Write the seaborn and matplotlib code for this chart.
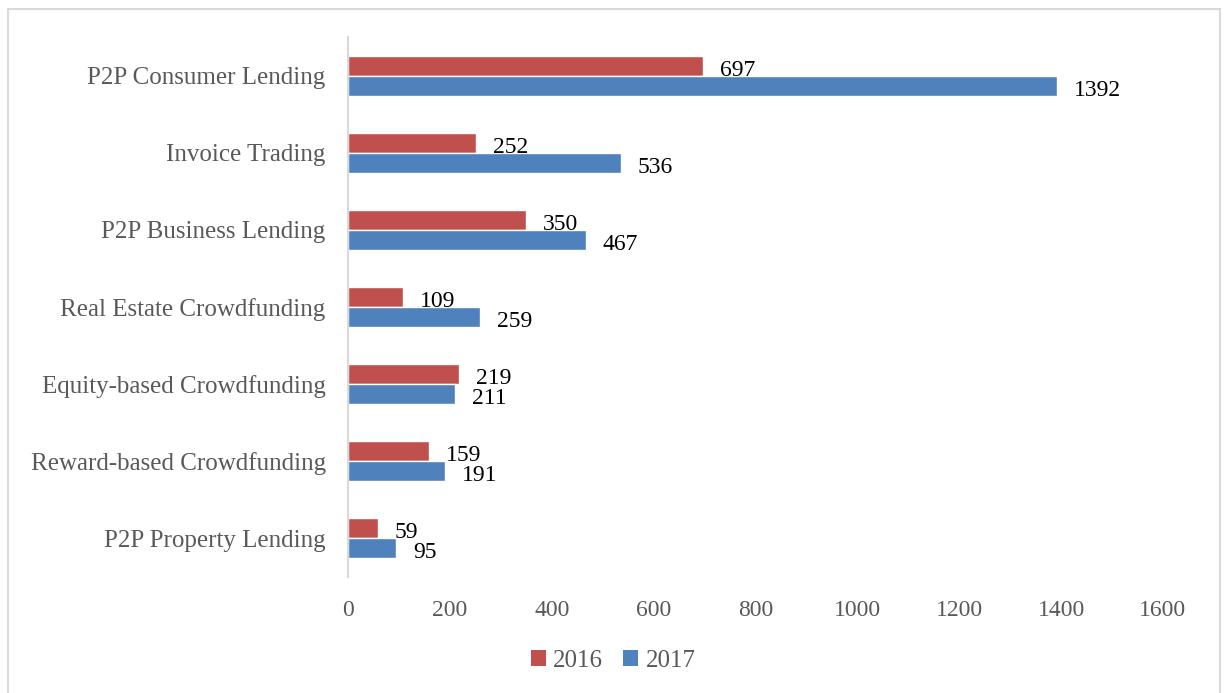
import matplotlib
matplotlib.use("Agg")
import matplotlib.pyplot as plt
import seaborn as sns
import pandas as pd
from matplotlib.patches import Rectangle, Patch

categories = [
    "P2P Consumer Lending",
    "Invoice Trading",
    "P2P Business Lending",
    "Real Estate Crowdfunding",
    "Equity-based Crowdfunding",
    "Reward-based Crowdfunding",
    "P2P Property Lending",
]
values_2016 = [697, 252, 350, 109, 219, 159, 59]
values_2017 = [1392, 536, 467, 259, 211, 191, 95]
years = ["2016", "2017"]
x_ticks = [0, 200, 400, 600, 800, 1000, 1200, 1400, 1600]

colors = {"2016": "#C0504D", "2017": "#4F81BD"}

df = pd.DataFrame({
    "category": categories * 2,
    "year": ["2016"] * len(categories) + ["2017"] * len(categories),
    "value": values_2016 + values_2017,
})

sns.set_theme(style="white")
plt.rcParams["font.family"] = ["Liberation Serif", "DejaVu Serif"]

fig = plt.figure(figsize=(12.26, 6.93), dpi=100)
ax = fig.add_axes([0.2838, 0.168, 0.6648, 0.778])

sns.barplot(data=df, y="category", x="value", hue="year", order=categories,
            hue_order=years, palette=colors, width=0.52, gap=0,
            orient="h", ax=ax, legend=False, saturation=1)

# value labels just past the end of each bar, nudged slightly downward
for container in ax.containers:
    labels = ax.bar_label(container, fmt="%d", padding=12, fontsize=17,
                          color="black")
    for t in labels:
        t.xyann = (t.xyann[0], -3.5)

ax.set_xlim(0, 1600)
ax.set_xticks(x_ticks)
ax.set_xlabel("")
ax.set_ylabel("")
ax.tick_params(axis="x", length=0, pad=17, labelsize=17, labelcolor="#595959")
ax.tick_params(axis="y", length=0, pad=16, labelsize=18, labelcolor="#595959")
for side in ["top", "right", "bottom"]:
    ax.spines[side].set_visible(False)
ax.spines["left"].set_color("#D9D9D9")
ax.spines["left"].set_linewidth(1.5)
ax.grid(False)

handles = [Patch(facecolor=colors[y], edgecolor="none", label=y) for y in years]
fig.legend(handles=handles, loc="center", bbox_to_anchor=(0.5, 0.046), ncol=2,
           frameon=False, fontsize=18, handlelength=0.6, handleheight=0.6,
           handletextpad=0.3, columnspacing=0.8, labelcolor="#595959")

# outer chart frame (bottom edge runs past the canvas)
fig.patches.append(Rectangle((8 / 1226, -10 / 693), 1212 / 1226, 694 / 693,
                             transform=fig.transFigure, fill=False,
                             edgecolor="#D9D9D9", linewidth=1.5))

fig.savefig("out.png", dpi=100)
